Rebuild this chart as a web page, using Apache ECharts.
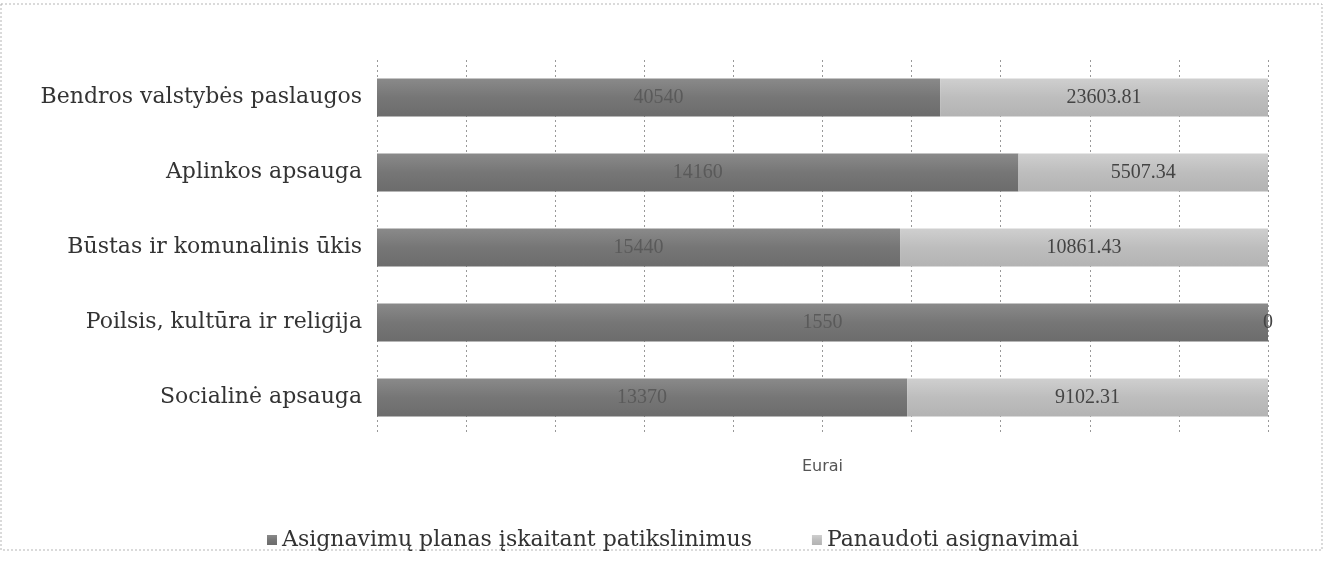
<!DOCTYPE html>
<html>
<head>
    <meta charset="utf-8">
    <title>Asignavimai</title>
    <script src="https://cdn.jsdelivr.net/npm/echarts@6/dist/echarts.min.js"></script>
    <style>
        html, body { margin: 0; padding: 0; background: #fff; }
        #main { width: 1325px; height: 567px; }
    </style>
</head>
<body>
    <div id="main"></div>
    <script type="text/javascript">
        // categories, top to bottom
        var categories = [
            'Bendros valstybės paslaugos',
            'Aplinkos apsauga',
            'Būstas ir komunalinis ūkis',
            'Poilsis, kultūra ir religija',
            'Socialinė apsauga'
        ];
        // planned (dark) values are estimated, the printed labels are not legible
        var planas = [40540, 14160, 15440, 1550, 13370];
        var panaudota = [23603.81, 5507.34, 10861.43, 0, 9102.31];
        var xTicks = [0, 10, 20, 30, 40, 50, 60, 70, 80, 90, 100];

        // 100% stacked shares
        function share(arr) {
            return arr.map(function(v, i) {
                var tot = planas[i] + panaudota[i];
                return tot ? v / tot * 100 : 0;
            });
        }

        var serif = '"Liberation Serif", "DejaVu Serif", serif';
        var wideSerif = '"DejaVu Serif", "Liberation Serif", serif';
        var myChart = echarts.init(document.getElementById('main'));

        var option = {
            backgroundColor: '#fff',
            animation: false,
            graphic: [{
                type: 'rect',
                shape: { x: 1, y: 4, width: 1321, height: 546 },
                style: { fill: 'none', stroke: '#b5b5b5', lineWidth: 1, lineDash: [2, 2] }
            }],
            grid: {
                left: 377,
                right: 57,
                top: 60,
                bottom: 132
            },
            legend: {
                data: ['Asignavimų planas įskaitant patikslinimus', 'Panaudoti asignavimai'],
                top: 524,
                left: 262,
                itemWidth: 10,
                itemHeight: 10,
                itemGap: 60,
                icon: 'rect',
                textStyle: { fontFamily: wideSerif, fontSize: 22, color: '#333' }
            },
            xAxis: {
                type: 'value',
                min: xTicks[0],
                max: xTicks[xTicks.length - 1],
                interval: 10,
                name: 'Eurai',
                nameLocation: 'middle',
                nameGap: 24,
                nameTextStyle: { fontFamily: '"DejaVu Sans", sans-serif', fontSize: 16, color: '#555' },
                axisLabel: { show: false },
                axisTick: { show: false },
                axisLine: { show: false },
                splitLine: {
                    show: true,
                    lineStyle: { color: '#999', type: [2, 3], width: 1 }
                }
            },
            yAxis: {
                type: 'category',
                inverse: true,
                data: categories,
                axisTick: { show: false },
                axisLine: { show: false },
                axisLabel: {
                    margin: 15,
                    fontFamily: wideSerif,
                    fontSize: 22,
                    color: '#333'
                }
            },
            series: [{
                name: 'Asignavimų planas įskaitant patikslinimus',
                type: 'bar',
                stack: 'total',
                barWidth: 38,
                itemStyle: {
                    color: new echarts.graphic.LinearGradient(0, 0, 0, 1, [
                        { offset: 0, color: '#8a8a8a' },
                        { offset: 0.5, color: '#767676' },
                        { offset: 1, color: '#6c6c6c' }
                    ])
                },
                label: {
                    show: true,
                    position: 'inside',
                    fontFamily: serif,
                    fontSize: 20,
                    color: '#5a5a5a',
                    formatter: function(p) { return String(planas[p.dataIndex]); }
                },
                data: share(planas)
            }, {
                name: 'Panaudoti asignavimai',
                type: 'bar',
                stack: 'total',
                barWidth: 38,
                itemStyle: {
                    color: new echarts.graphic.LinearGradient(0, 0, 0, 1, [
                        { offset: 0, color: '#cfcfcf' },
                        { offset: 0.5, color: '#bdbdbd' },
                        { offset: 1, color: '#b3b3b3' }
                    ])
                },
                label: {
                    show: true,
                    position: 'inside',
                    fontFamily: serif,
                    fontSize: 20,
                    color: '#444',
                    formatter: function(p) { return String(panaudota[p.dataIndex]); }
                },
                data: share(panaudota)
            }]
        };

        myChart.setOption(option);
    </script>
</body>
</html>
